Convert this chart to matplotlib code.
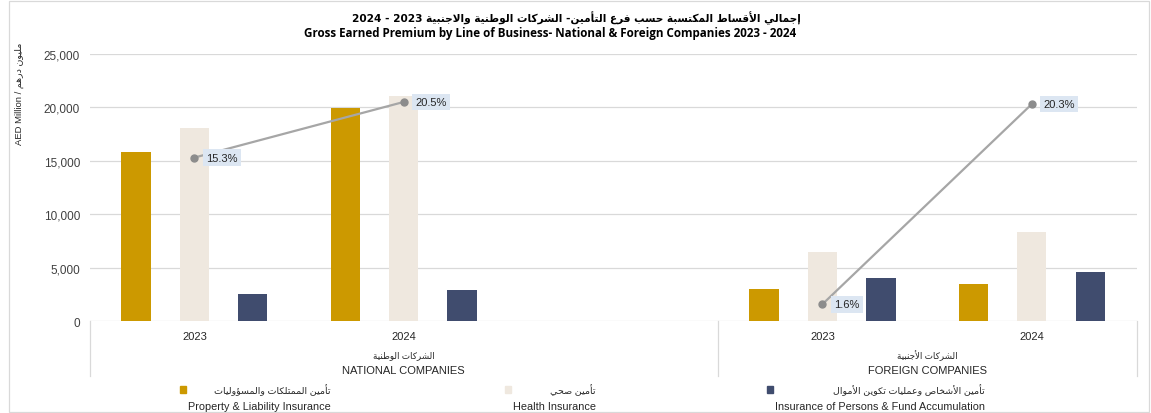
import re
import numpy as np
import matplotlib
matplotlib.use("Agg")
import matplotlib.pyplot as plt
from matplotlib.patches import Rectangle

# ---------------- data ----------------
groups_en = ["NATIONAL COMPANIES", "FOREIGN COMPANIES"]
groups_ar = ["الشركات الوطنية", "الشركات الأجنبية"]
group_years = [["2023", "2024"], ["2023", "2024"]]
group_slots = [3, 2]          # the national block keeps one empty slot

series_en = ["Property & Liability Insurance", "Health Insurance",
             "Insurance of Persons & Fund Accumulation"]
series_ar = ["تأمين الممتلكات والمسؤوليات", "تأمين صحي",
             "تأمين الأشخاص وعمليات تكوين الأموال"]
property_liability = [15850, 19900, 3000, 3450]
health = [18070, 21080, 6480, 8350]
persons_funds = [2520, 2900, 4050, 4580]
growth_pct = [15.3, 20.5, 1.6, 20.3]

yticks = [0, 5000, 10000, 15000, 20000, 25000]

title_ar = "إجمالي الأقساط المكتسبة حسب فرع التأمين- الشركات الوطنية والاجنبية 2023 - 2024"
title_en = "Gross Earned Premium by Line of Business- National & Foreign Companies 2023 - 2024"
ylabel_en = "AED Million / "
ylabel_ar = "مليون درهم"

colors = ["#cc9900", "#efe8df", "#404c6e"]

# ------------- Arabic shaping (contextual forms + RTL order) -------------
_FORMS = {
    'ء': (0xFE80, 1), 'آ': (0xFE81, 2), 'أ': (0xFE83, 2), 'ؤ': (0xFE85, 2),
    'إ': (0xFE87, 2), 'ئ': (0xFE89, 4), 'ا': (0xFE8D, 2), 'ب': (0xFE8F, 4),
    'ة': (0xFE93, 2), 'ت': (0xFE95, 4), 'ث': (0xFE99, 4), 'ج': (0xFE9D, 4),
    'ح': (0xFEA1, 4), 'خ': (0xFEA5, 4), 'د': (0xFEA9, 2), 'ذ': (0xFEAB, 2),
    'ر': (0xFEAD, 2), 'ز': (0xFEAF, 2), 'س': (0xFEB1, 4), 'ش': (0xFEB5, 4),
    'ص': (0xFEB9, 4), 'ض': (0xFEBD, 4), 'ط': (0xFEC1, 4), 'ظ': (0xFEC5, 4),
    'ع': (0xFEC9, 4), 'غ': (0xFECD, 4), 'ف': (0xFED1, 4), 'ق': (0xFED5, 4),
    'ك': (0xFED9, 4), 'ل': (0xFEDD, 4), 'م': (0xFEE1, 4), 'ن': (0xFEE5, 4),
    'ه': (0xFEE9, 4), 'و': (0xFEED, 2), 'ى': (0xFEEF, 2), 'ي': (0xFEF1, 4),
}
_LAM_ALEF = {'آ': 0xFEF5, 'أ': 0xFEF7, 'إ': 0xFEF9, 'ا': 0xFEFB}


def _shape(s):
    toks, i = [], 0
    while i < len(s):
        if s[i] == 'ل' and i + 1 < len(s) and s[i + 1] in _LAM_ALEF:
            toks.append(('LA', s[i + 1]))
            i += 2
        else:
            toks.append(('C', s[i]))
            i += 1

    def joins_next(t):
        return t[0] == 'C' and t[1] in _FORMS and _FORMS[t[1]][1] == 4

    def joinable(t):
        return t[0] == 'LA' or (t[1] in _FORMS and _FORMS[t[1]][1] > 1)

    out = []
    for k, t in enumerate(toks):
        jp = k > 0 and joins_next(toks[k - 1])
        jn = k + 1 < len(toks) and joinable(toks[k + 1])
        if t[0] == 'LA':
            out.append(chr(_LAM_ALEF[t[1]] + (1 if jp else 0)))
        elif t[1] in _FORMS:
            base, n = _FORMS[t[1]]
            if n == 1:
                out.append(chr(base))
            elif n == 2:
                out.append(chr(base + (1 if jp else 0)))
            else:
                idx = 3 if (jp and jn) else 2 if jn else 1 if jp else 0
                out.append(chr(base + idx))
        else:
            out.append(t[1])
    return ''.join(out)


def rtl(s):
    vis = _shape(s)[::-1]
    return re.sub(r'[0-9A-Za-z.,%&]+', lambda m: m.group(0)[::-1], vis)


# ---------------- figure ----------------
W, H = 1151, 414
fig = plt.figure(figsize=(W / 100, H / 100), dpi=100)
fig.patch.set_facecolor("white")
FAM = ["Liberation Sans", "DejaVu Sans"]
TXT = "#262626"


def fx(px):
    return px / W


def fy(py):
    return 1 - py / H


x_left, x_right, y_base, y_top = 89.7, 1136.5, 322.3, 54.8
ax = fig.add_axes([fx(x_left), fy(y_base), (x_right - x_left) / W, (y_base - y_top) / H])

# slot positions of each category
xs, bounds, start = [], [-0.5], 0
for years, slots in zip(group_years, group_slots):
    xs.extend(start + i for i in range(len(years)))
    start += slots
    bounds.append(start - 0.5)
xs = np.array(xs, dtype=float)
n_slots = start

offsets = [-0.279, 0.0, 0.279]
bar_w = 0.14
for vals, off, col in zip([property_liability, health, persons_funds], offsets, colors):
    ax.bar(xs + off, vals, width=bar_w, color=col, zorder=2)

ax.set_xlim(-0.5, n_slots - 0.5)
ax.set_ylim(yticks[0], yticks[-1])
ax.set_yticks(yticks)
ax.set_yticklabels([f"{v:,}" for v in yticks], fontsize=8.5, color="#404040", family=FAM)
ax.tick_params(axis="y", length=0, pad=7)
ax.set_xticks([])
ax.yaxis.grid(True, color="#d9d9d9", lw=0.9, zorder=0)
ax.set_axisbelow(True)
for sp in ax.spines.values():
    sp.set_visible(False)

# category axis: separators, years and group names
ext = -(377.0 - y_base) / (y_base - y_top)
xt = ax.get_xaxis_transform()
for b in bounds:
    ax.plot([b, b], [0, ext], transform=xt, color="#d9d9d9", lw=0.9, clip_on=False)


def yfrac(py):
    return -(py - y_base) / (y_base - y_top)


for x, yr in zip(xs, sum(group_years, [])):
    ax.text(x, yfrac(337), yr, transform=xt, ha="center", va="center",
            fontsize=8, color=TXT, family=FAM)
for g in range(len(groups_en)):
    cx = (bounds[g] + bounds[g + 1]) / 2
    ax.text(cx, yfrac(356), rtl(groups_ar[g]), transform=xt, ha="center", va="center",
            fontsize=6.3, color=TXT, family=FAM)
    ax.text(cx, yfrac(370.5), groups_en[g], transform=xt, ha="center", va="center",
            fontsize=8, color=TXT, family=FAM)

# growth line on a hidden percentage scale
ax2 = ax.twinx()
ax2.set_ylim(0, 25)
ax2.axis("off")
gy = np.full(n_slots, np.nan)
gy[xs.astype(int)] = growth_pct
ax2.plot(np.arange(n_slots), gy, color="#a6a6a6", lw=1.6, marker="o", ms=5,
         mfc="#8c8c8c", mec="#8c8c8c", zorder=3)
for x, v in zip(xs, growth_pct):
    ax2.annotate(f"{v:.1f}%", (x, v), xytext=(8.4, 0), textcoords="offset points",
                 ha="left", va="center", fontsize=8, color=TXT, family=FAM,
                 bbox=dict(boxstyle="square,pad=0.3", fc="#dce6f2", ec="none"), zorder=4)

# y-axis caption
fig.text(fx(19), fy(94), ylabel_en + rtl(ylabel_ar), rotation=90, ha="center", va="center",
         fontsize=6.8, color=TXT, family=FAM)

# titles
fig.text(fx(576), fy(18), rtl(title_ar), ha="center", va="center", fontsize=7.6,
         fontweight="bold", color="#000000", family=["DejaVu Sans"])
fig.text(fx(550), fy(34), title_en, ha="center", va="center", fontsize=8.35,
         fontweight="bold", color="#000000", family=["Open Sans", "DejaVu Sans"])

# legend: marker, Arabic line right-aligned over the English line
renderer = fig.canvas.get_renderer()
leg_text_left = [188, 513, 775]
for left, col, en, ar in zip(leg_text_left, colors, series_en, series_ar):
    fig.patches.append(Rectangle((fx(left - 8), fy(394)), 6 / W, 7 / H,
                                 transform=fig.transFigure, color=col))
    t_en = fig.text(fx(left), fy(407), en, ha="left", va="center",
                    fontsize=7.8, color=TXT, family=FAM)
    right_px = t_en.get_window_extent(renderer).x1
    fig.text(right_px / W, fy(390.5), rtl(ar), ha="right", va="center",
             fontsize=6.8, color=TXT, family=FAM)

# outer frame
fig.patches.append(Rectangle((fx(9), fy(413)), (1149 - 9) / W, (413 - 2) / H,
                             transform=fig.transFigure, fill=False, ec="#d9d9d9", lw=0.9))

fig.savefig("out.png", dpi=100)
